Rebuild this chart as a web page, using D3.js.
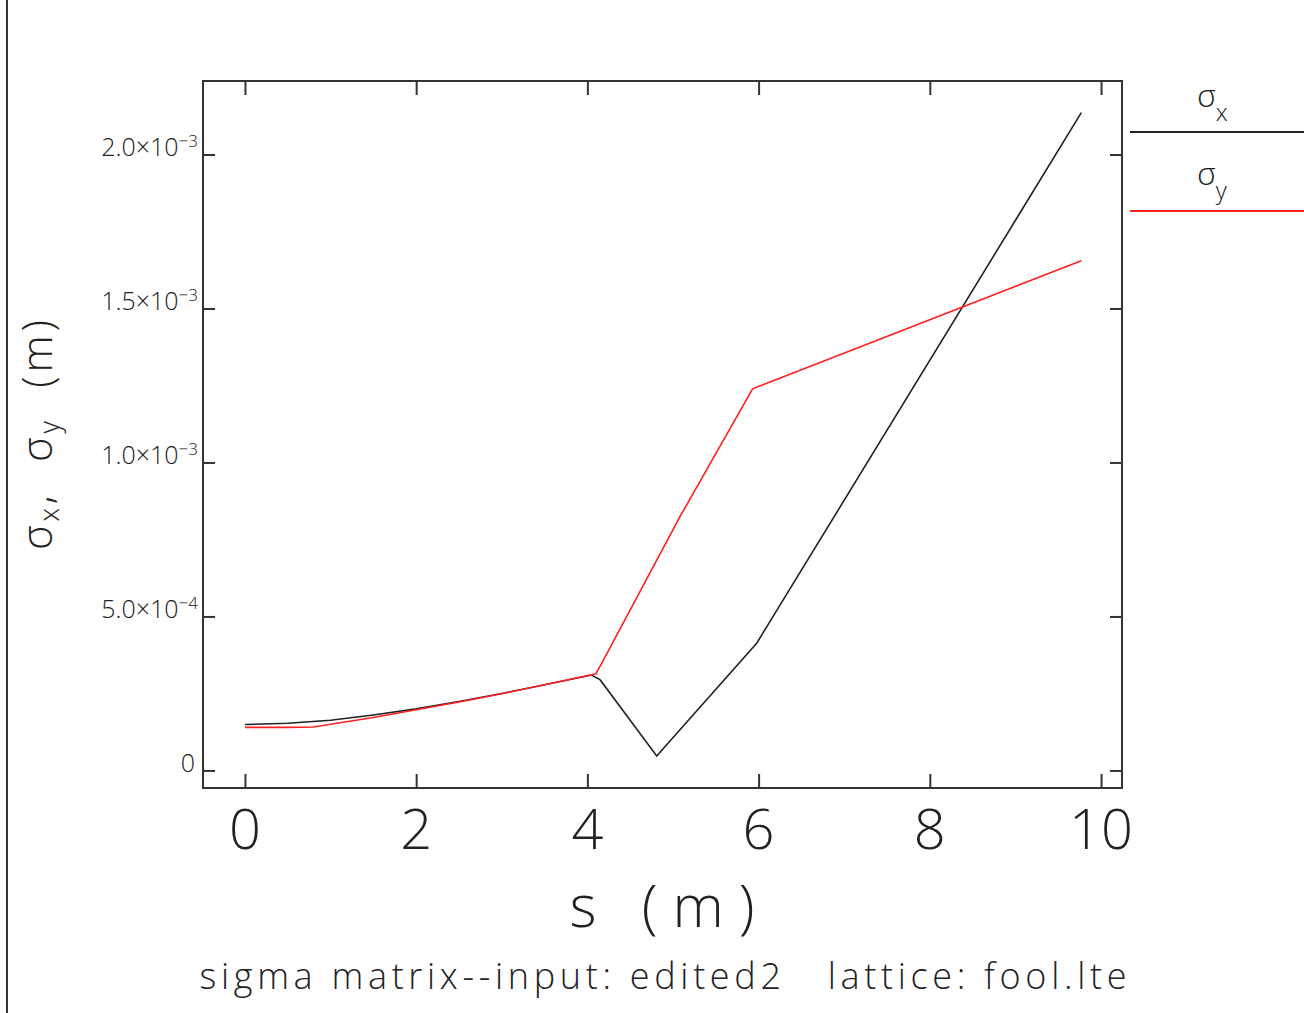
<!DOCTYPE html>
<html>
<head>
<meta charset="utf-8">
<script src="https://cdn.jsdelivr.net/npm/d3@7"></script>
<style>
  body { margin: 0; background: #fff; }
  svg { display: block; }
  text { font-family: "Open Sans", "Liberation Sans", sans-serif; font-weight: 300; fill: #222; white-space: pre; }
  .axis line { stroke: #333; stroke-width: 2; }
  .axis path { display: none; }
</style>
</head>
<body>
<script>
// sigma_x (black) -- s in m, sigma in m
var sX = [0, 0.5, 1.0, 1.5, 2.0, 2.5, 3.0, 3.5, 4.05, 4.15, 4.81, 5.98, 9.77];
var sigmaX = [1.49e-4, 1.53e-4, 1.63e-4, 1.80e-4, 2.00e-4, 2.24e-4, 2.50e-4, 2.78e-4, 3.10e-4, 2.94e-4, 0.47e-4, 4.14e-4, 2.136e-3];

// sigma_y (red)
var sY = [0, 0.5, 0.8, 1.0, 1.5, 2.0, 2.5, 3.0, 3.5, 4.1, 4.17, 5.08, 5.93, 9.77];
var sigmaY = [1.40e-4, 1.40e-4, 1.41e-4, 1.50e-4, 1.72e-4, 1.97e-4, 2.22e-4, 2.49e-4, 2.78e-4, 3.14e-4, 3.49e-4, 8.23e-4, 1.239e-3, 1.655e-3];

var xTicks = [0, 2, 4, 6, 8, 10];
var yTicks = [0, 5e-4, 1e-3, 1.5e-3, 2e-3];
var yTickMant = ["0", "5.0×10", "1.0×10", "1.5×10", "2.0×10"];
var yTickExp = ["", "−4", "−3", "−3", "−3"];

var W = 1304, H = 1013;
var frame = {left: 203, right: 1122, top: 81, bottom: 788};

var x = d3.scaleLinear().domain([-0.49, 10.245]).range([frame.left, frame.right]);
var y = d3.scaleLinear().domain([-0.057e-3, 2.2386e-3]).range([frame.bottom, frame.top]);

var svg = d3.select("body").append("svg")
    .attr("width", W)
    .attr("height", H);

// left border line of the page
svg.append("line")
    .attr("x1", 7).attr("x2", 7).attr("y1", 0).attr("y2", H)
    .attr("stroke", "#333").attr("stroke-width", 2);

// frame
svg.append("rect")
    .attr("x", frame.left).attr("y", frame.top)
    .attr("width", frame.right - frame.left).attr("height", frame.bottom - frame.top)
    .attr("fill", "none").attr("stroke", "#333").attr("stroke-width", 2);

// ticks pointing inward on all four sides
svg.append("g").attr("class", "axis")
    .attr("transform", "translate(0," + frame.bottom + ")")
    .call(d3.axisBottom(x).tickValues(xTicks).tickSize(-14).tickFormat(""));
svg.append("g").attr("class", "axis")
    .attr("transform", "translate(0," + frame.top + ")")
    .call(d3.axisTop(x).tickValues(xTicks).tickSize(-14).tickFormat(""));
svg.append("g").attr("class", "axis")
    .attr("transform", "translate(" + frame.left + ",0)")
    .call(d3.axisLeft(y).tickValues(yTicks).tickSize(-12).tickFormat(""));
svg.append("g").attr("class", "axis")
    .attr("transform", "translate(" + frame.right + ",0)")
    .call(d3.axisRight(y).tickValues(yTicks).tickSize(-12).tickFormat(""));

// x tick labels
svg.selectAll(".xlab").data(xTicks).enter().append("text")
    .attr("class", "xlab")
    .attr("x", function(d) { return x(d); })
    .attr("y", 849)
    .attr("text-anchor", "middle")
    .style("font-size", "56px")
    .text(function(d) { return d; });

// y tick labels with exponent
var yl = svg.selectAll(".ylab").data(yTicks).enter().append("text")
    .attr("class", "ylab")
    .attr("x", function(d, i) { return i === 0 ? 195 : 198; })
    .attr("y", function(d) { return y(d) + 1.5; })
    .attr("text-anchor", "end")
    .style("font-size", "25px");
yl.append("tspan").text(function(d, i) { return yTickMant[i]; });
yl.append("tspan")
    .attr("dy", -9)
    .style("font-size", "17px")
    .text(function(d, i) { return yTickExp[i]; });

// curves
var line = d3.line()
    .x(function(d) { return x(d[0]); })
    .y(function(d) { return y(d[1]); });

svg.append("path")
    .datum(d3.zip(sX, sigmaX))
    .attr("fill", "none").attr("stroke", "#222").attr("stroke-width", 1.6)
    .attr("d", line);
svg.append("path")
    .datum(d3.zip(sY, sigmaY))
    .attr("fill", "none").attr("stroke", "#ff2020").attr("stroke-width", 1.6)
    .attr("d", line);

// x axis title
svg.append("text")
    .attr("x", 662).attr("y", 927)
    .attr("text-anchor", "middle")
    .attr("textLength", 185).attr("lengthAdjust", "spacing")
    .style("font-size", "58px")
    .text("s (m)");

// subtitle
svg.append("text")
    .attr("x", 663).attr("y", 989)
    .attr("text-anchor", "middle")
    .attr("textLength", 927).attr("lengthAdjust", "spacing")
    .style("font-size", "36px")
    .text("sigma matrix--input: edited2   lattice: fool.lte");

// y axis title, rotated
var yt = svg.append("text")
    .attr("transform", "translate(52,435) rotate(-90)")
    .attr("text-anchor", "middle")
    .attr("textLength", 230).attr("lengthAdjust", "spacing")
    .style("font-size", "42px");
yt.append("tspan").text("σ");
yt.append("tspan").attr("dy", 7).style("font-size", "27px").text("x");
yt.append("tspan").attr("dy", -7).text(",  σ");
yt.append("tspan").attr("dy", 7).style("font-size", "27px").text("y");
yt.append("tspan").attr("dy", -7).text("  (m)");

// legend
var legend = [
  {name: "x", color: "#222", ly: 132, ty: 107},
  {name: "y", color: "#ff2020", ly: 211, ty: 185}
];
legend.forEach(function(d) {
  svg.append("line")
      .attr("x1", 1130).attr("x2", W).attr("y1", d.ly).attr("y2", d.ly)
      .attr("stroke", d.color).attr("stroke-width", 2);
  var t = svg.append("text").attr("x", 1197).attr("y", d.ty).style("font-size", "32px");
  t.append("tspan").text("σ");
  t.append("tspan").attr("dy", 14).style("font-size", "24px").text(d.name);
});
</script>
</body>
</html>
